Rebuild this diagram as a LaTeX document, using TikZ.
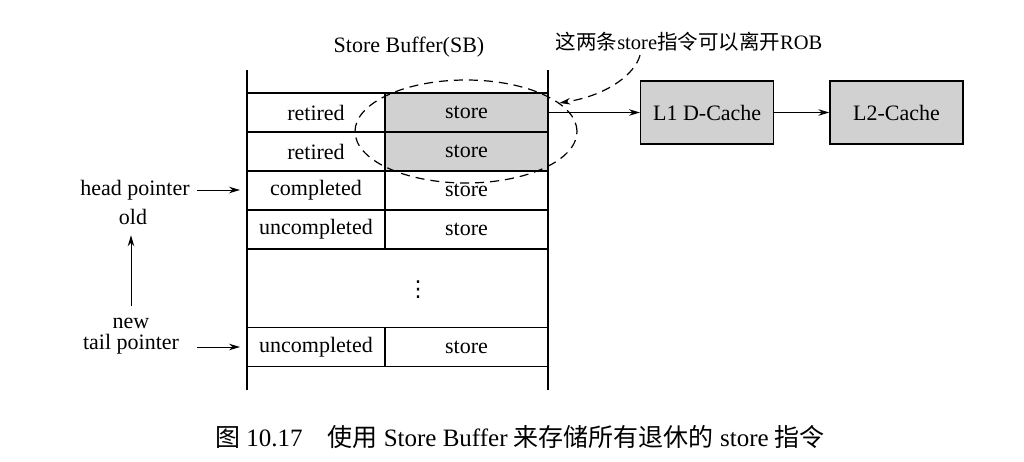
\documentclass[tikz,border=0pt]{standalone}
\usepackage{fontspec}
\setmainfont{Liberation Serif}
\newfontfamily\cjk{Noto Sans CJK SC}
\newfontfamily\symb{DejaVu Sans}
\usepackage{tikz}
\usetikzlibrary{shapes,arrows.meta,positioning}

\tikzset{
    cell/.style={draw, line width=1.3pt, inner sep=0pt, outer sep=0pt, minimum height=39pt},
    tag/.style={cell, minimum width=138pt},
    slot/.style={cell, minimum width=163pt},
    cache/.style={draw, line width=1.3pt, fill=black!18, inner sep=0pt, minimum width=133pt, minimum height=63pt},
    ptr/.style={->, line width=1pt},
}

\begin{document}
\begin{tikzpicture}[x=1pt, y=-1pt, font=\fontsize{22}{26}\selectfont, >={Stealth[length=11pt,width=6.5pt]}]
    % Background
    \useasboundingbox (0,0) rectangle (1024,461);
    \fill[white] (0,0) rectangle (1024,461);

    % Title
    \node (title) at (409,47) {Store Buffer(SB)};

    % Buffer sides
    \draw[line width=1.3pt] (247,70) -- (247,390);
    \draw[line width=1.3pt] (548,70) -- (548,390);

    % Entries
    \node[tag] (t1) at (316,112.5) {retired};
    \node[slot, fill=black!18, right=0pt of t1] (s1) {store};
    \node[tag] (t2) at (316,151.5) {retired};
    \node[slot, fill=black!18, right=0pt of t2] (s2) {store};
    \node[tag] (t3) at (316,190.5) {completed};
    \node[slot, right=0pt of t3] (s3) {store};
    \node[tag] (t4) at (316,229.5) {uncompleted};
    \node[slot, right=0pt of t4] (s4) {store};
    \node[font=\symb\fontsize{22}{26}\selectfont] (dots) at (418,290) {⋮};
    \node[tag] (t5) at (316,347) {uncompleted};
    \node[slot, right=0pt of t5] (s5) {store};

    % Retired group
    \node[draw, ellipse, line width=1.2pt, dash pattern=on 9pt off 6pt,
          minimum width=222pt, minimum height=103pt] (grp) at (466,131.5) {};
    \node[font=\fontsize{20.5}{24}\selectfont] (note) at (689,42) {{\cjk 这两条}store{\cjk 指令可以离开}ROB};
    \draw[->, line width=1.2pt, dash pattern=on 9pt off 6pt]
        ([xshift=-49pt]note.south) .. controls (636,72) and (610,95) .. (grp.17);

    % Caches
    \node[cache, right=92pt of s1] (l1) {L1 D-Cache};
    \node[cache, right=55pt of l1] (l2) {L2-Cache};
    \draw[->, line width=1.2pt] (s1) -- (l1);
    \draw[->, line width=1.2pt] (l1) -- (l2);

    % Pointers
    \node (head) at (135,190) {head pointer};
    \node (old) at (133,217) {old};
    \node (new) at (131,323) {new};
    \node (tail) at (131,344) {tail pointer};
    \draw[ptr, shorten <=4pt, shorten >=7pt] (head.east) -- (head.east -| t3.west);
    \draw[ptr, shorten <=8pt, shorten >=7pt] (new.north) -- (new.north |- old.south);
    \draw[ptr, shorten <=15pt, shorten >=7pt] (tail.east |- t5.west) -- (t5.west);

    % Caption
    \node[font=\fontsize{25}{30}\selectfont] (cap) at (520,437)
        {{\cjk 图} 10.17\quad{\cjk 使用} Store Buffer {\cjk 来存储所有退休的} store {\cjk 指令}};
\end{tikzpicture}
\end{document}
